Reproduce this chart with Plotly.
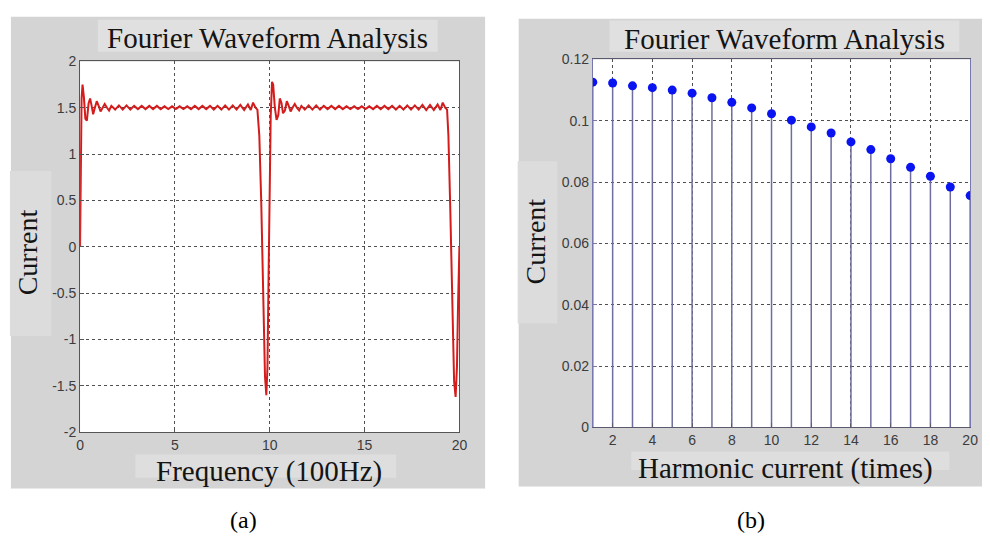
import plotly.graph_objects as go

# ---------------- data ----------------
# (a) Fourier waveform: frequency (100Hz) vs current
wave_x = [0.0, 0.03, 0.08, 0.13, 0.2, 0.28, 0.36, 0.45, 0.53, 0.61, 0.69, 0.78, 0.88, 0.98,
          1.08, 1.19, 1.3, 1.42, 1.53, 1.65, 1.85, 2.05, 2.25, 2.45, 2.65, 2.85, 3.05, 3.25,
          3.45, 3.65, 3.85, 4.05, 4.25, 4.45, 4.65, 4.85, 5.05, 5.25, 5.45, 5.65, 5.85, 6.05,
          6.25, 6.45, 6.65, 6.85, 7.05, 7.25, 7.45, 7.65, 7.85, 8.05, 8.25, 8.45, 8.65, 8.85,
          9.0, 9.12, 9.25, 9.35, 9.45, 9.55, 9.65, 9.75, 9.82, 9.88, 9.94, 10.0,
          10.05, 10.12, 10.18, 10.27, 10.36, 10.45, 10.53, 10.62, 10.7, 10.8, 10.9, 11.0,
          11.1, 11.2, 11.32, 11.43, 11.55, 11.67, 11.85, 12.05, 12.25, 12.45, 12.65, 12.85,
          13.05, 13.25, 13.45, 13.65, 13.85, 14.05, 14.25, 14.45, 14.65, 14.85, 15.05, 15.25,
          15.45, 15.65, 15.85, 16.05, 16.25, 16.45, 16.65, 16.85, 17.05, 17.25, 17.45, 17.65,
          17.85, 18.05, 18.25, 18.45, 18.65, 18.85, 19.0, 19.12, 19.25, 19.35, 19.42, 19.52,
          19.62, 19.72, 19.8, 19.87, 19.93, 20.0]
wave_y = [0.0, 0.9, 1.6, 1.75, 1.62, 1.38, 1.36, 1.55, 1.6, 1.52, 1.43, 1.5, 1.57, 1.52,
          1.46, 1.5, 1.54, 1.5, 1.47, 1.52, 1.48, 1.525, 1.48, 1.525, 1.48, 1.52, 1.485, 1.52,
          1.485, 1.52, 1.485, 1.52, 1.485, 1.515, 1.485, 1.515, 1.485, 1.515, 1.485, 1.515, 1.485, 1.52,
          1.485, 1.52, 1.485, 1.52, 1.48, 1.52, 1.48, 1.525, 1.48, 1.525, 1.48, 1.53, 1.475, 1.535,
          1.475, 1.555, 1.5, 1.48, 1.2, 0.5, -0.5, -1.4, -1.6, -1.3, -0.3, 0.6,
          1.4, 1.78, 1.75, 1.5, 1.37, 1.42, 1.6, 1.55, 1.44, 1.47, 1.57, 1.52,
          1.46, 1.5, 1.54, 1.5, 1.47, 1.52, 1.48, 1.525, 1.48, 1.525, 1.48, 1.52,
          1.485, 1.52, 1.485, 1.52, 1.485, 1.515, 1.485, 1.515, 1.485, 1.515, 1.485, 1.515,
          1.485, 1.52, 1.485, 1.52, 1.485, 1.52, 1.48, 1.52, 1.48, 1.525, 1.48, 1.525,
          1.48, 1.53, 1.475, 1.53, 1.475, 1.535, 1.475, 1.555, 1.5, 1.48, 1.2, 0.4,
          -0.6, -1.45, -1.62, -1.3, -0.6, 0.0]

# (b) harmonic current amplitudes, orders 1..20
harm_order = list(range(1, 21))
harm_value = [0.1126, 0.1123, 0.1114, 0.1108, 0.1100, 0.1090, 0.1075, 0.1060, 0.1042, 0.1023,
              0.1002, 0.0980, 0.0960, 0.0931, 0.0906, 0.0876, 0.0848, 0.0819, 0.0784, 0.0756]

# tick labels
a_xticks = [0, 5, 10, 15, 20]
a_xlabels = ["0", "5", "10", "15", "20"]
a_yticks = [-2, -1.5, -1, -0.5, 0, 0.5, 1, 1.5, 2]
a_ylabels = ["-2", "-1.5", "-1", "-0.5", "0", "0.5", "1", "1.5", "2"]
b_xticks = [2, 4, 6, 8, 10, 12, 14, 16, 18, 20]
b_xlabels = [str(v) for v in b_xticks]
b_yticks = [0, 0.02, 0.04, 0.06, 0.08, 0.1, 0.12]
b_ylabels = ["0", "0.02", "0.04", "0.06", "0.08", "0.1", "0.12"]

titles = ["Fourier Waveform Analysis", "Fourier Waveform Analysis"]
xtitles = ["Frequency (100Hz)", "Harmonic current (times)"]
ytitle = "Current"
captions = ["(a)", "(b)"]

# ---------------- layout helpers ----------------
W, H = 990, 546
def px(x):
    return x / W
def py(y):
    return 1 - y / H

fig = go.Figure()

fig.add_trace(go.Scatter(x=wave_x, y=wave_y, mode="lines",
                         line=dict(color="#d41c1c", width=2),
                         xaxis="x", yaxis="y", showlegend=False))

stem_x, stem_y = [], []
for o, v in zip(harm_order, harm_value):
    stem_x += [o, o, None]
    stem_y += [0, v, None]
fig.add_trace(go.Scatter(x=stem_x, y=stem_y, mode="lines",
                         line=dict(color="#6e6e9e", width=1.5),
                         xaxis="x2", yaxis="y2", showlegend=False))
fig.add_trace(go.Scatter(x=harm_order, y=harm_value, mode="markers",
                         marker=dict(color="#0a14f0", size=9),
                         xaxis="x2", yaxis="y2", showlegend=False))

tickfont = dict(family="Liberation Sans Narrow, Liberation Sans, Arial", size=14, color="#3c3c3c")
common = dict(showgrid=True, gridcolor="#505050", griddash="dot", gridwidth=1,
              zeroline=False, showline=True, mirror=True, ticks="inside", ticklen=4,
              tickfont=tickfont)

A_L, A_R, A_T, A_B = 77, 461, 55, 437
B_L, B_R, B_T, B_B = 596, 978, 53, 432

fig.update_layout(
    width=W, height=H, margin=dict(l=0, r=0, t=0, b=0),
    paper_bgcolor="white", plot_bgcolor="white",
    xaxis=dict(domain=[px(A_L), px(A_R)], range=[0, 20], tickvals=a_xticks, ticktext=a_xlabels,
               linecolor="#555555", tickcolor="#555555", anchor="y", **common),
    yaxis=dict(domain=[py(A_B), py(A_T)], range=[-2, 2], tickvals=a_yticks, ticktext=a_ylabels,
               linecolor="#555555", tickcolor="#555555", anchor="x", **common),
    xaxis2=dict(domain=[px(B_L), px(B_R)], range=[1, 20], tickvals=b_xticks, ticktext=b_xlabels,
                linecolor="#5a5a6e", tickcolor="#5a5a6e", anchor="y2", **common),
    yaxis2=dict(domain=[py(B_B), py(B_T)], range=[0, 0.12], tickvals=b_yticks, ticktext=b_ylabels,
                linecolor="#7878b0", tickcolor="#7878b0", anchor="x2", **common),
)

# background panels and label boxes
boxes = [
    (7, 9, 487, 495, "#d4d4d4"),
    (521, 11, 990, 493, "#d4d4d4"),
    (95, 12, 439, 45, "#e0e0e0"),
    (613, 13, 967, 45, "#e0e0e0"),
    (133, 460, 397, 484, "#dedede"),
    (635, 457, 957, 476, "#dedede"),
    (6, 168, 48, 338, "#dcdcdc"),
    (520, 158, 560, 325, "#dcdcdc"),
]
for x0, y0, x1, y1, c in boxes:
    fig.add_shape(type="rect", xref="paper", yref="paper",
                  x0=px(x0), x1=px(x1), y0=py(y1), y1=py(y0),
                  fillcolor=c, line=dict(width=0), layer="below")

# white plot areas, drawn in the subplot layer (below grid lines)
for xr, yr in (("x domain", "y domain"), ("x2 domain", "y2 domain")):
    fig.add_shape(type="rect", xref=xr, yref=yr, x0=0, x1=1, y0=0, y1=1,
                  fillcolor="#ffffff", line=dict(width=0), layer="below")

serif = "Liberation Serif, Times New Roman, serif"
def label(text, x, y, size, angle=0, color="#141414"):
    fig.add_annotation(text=text, xref="paper", yref="paper", x=px(x), y=py(y),
                       xanchor="center", yanchor="middle", showarrow=False, textangle=angle,
                       font=dict(family=serif, size=size, color=color))

label(titles[0], 267, 31, 29)
label(titles[1], 790, 32, 29)
label(xtitles[0], 268, 478, 29)
label(xtitles[1], 791, 474, 29)
label(ytitle, 24, 252, 28, angle=-90)
label(ytitle, 538, 240, 28, angle=-90)
label(captions[0], 242, 527, 24, color="#000000")
label(captions[1], 756, 527, 24, color="#000000")

fig.write_html("out.html")
